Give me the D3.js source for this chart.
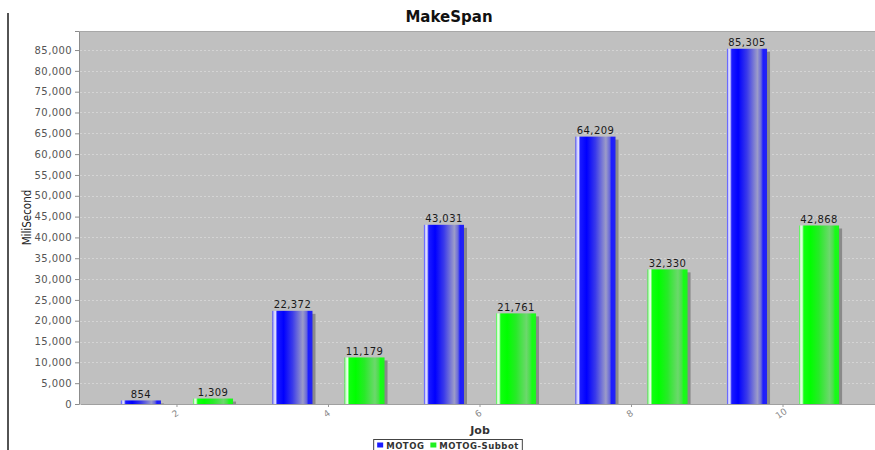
<!DOCTYPE html>
<html>
<head>
<meta charset="utf-8">
<script src="https://cdn.jsdelivr.net/npm/d3@7/dist/d3.min.js"></script>
<style>
  html, body { margin: 0; padding: 0; background: #ffffff; }
  svg { display: block; font-family: "DejaVu Sans", sans-serif; }
</style>
</head>
<body>
<svg id="chart" width="875" height="450"></svg>
<script>
// Jobs on the x axis and makespan (ms) for each scheduler
const jobs = ["2", "4", "6", "8", "10"];
const seriesNames = ["MOTOG", "MOTOG-Subbot"];
const motog = [854, 22372, 43031, 64209, 85305];
const motogSubbot = [1309, 11179, 21761, 32330, 42868];
const yTicks = [0, 5000, 10000, 15000, 20000, 25000, 30000, 35000, 40000,
                45000, 50000, 55000, 60000, 65000, 70000, 75000, 80000, 85000];
const seriesValues = [motog, motogSubbot];

const svg = d3.select("#chart");
const plot = { left: 80, right: 880, top: 31, bottom: 404 };

// bar gradients: thin highlight on the left, saturated body fading to a soft tone, bright edge on the right
const defs = svg.append("defs");
const gradSpecs = [
  { id: "gBlue", stops: [[0, "#3434ff"], [0.035, "#c4c4ff"], [0.075, "#e4e4ff"], [0.12, "#1a1aff"],
                          [0.28, "#0000ff"], [0.5, "#3a3aea"], [0.76, "#9c9cc8"], [0.85, "#6a6ad8"],
                          [0.9, "#1c1cff"], [1, "#2424f0"]] },
  { id: "gGreen", stops: [[0, "#34f034"], [0.035, "#c8ffc8"], [0.075, "#e8ffe8"], [0.12, "#10ff10"],
                          [0.28, "#00ff00"], [0.5, "#28ea28"], [0.76, "#6cd86c"], [0.85, "#48e048"],
                          [0.9, "#14ff14"], [1, "#20f020"]] }
];
gradSpecs.forEach(g => {
  const lg = defs.append("linearGradient").attr("id", g.id)
    .attr("x1", "0%").attr("x2", "100%").attr("y1", "0%").attr("y2", "0%");
  g.stops.forEach(s => lg.append("stop").attr("offset", s[0]).attr("stop-color", s[1]));
});
const fills = ["url(#gBlue)", "url(#gGreen)"];
const legendColors = ["#1a1aff", "#20f020"];

// scales
const x = d3.scaleBand().domain(jobs).range([plot.left, plot.right])
  .paddingInner(0.26).paddingOuter(0.27);
const xs = d3.scaleBand().domain(seriesNames).range([0, x.bandwidth()])
  .paddingInner(0.444).paddingOuter(0);
const y = d3.scaleLinear().domain([0, d3.max(motog) * 1.05]).range([plot.bottom, plot.top]);

// frame line on the left edge
svg.append("line").attr("x1", 8).attr("x2", 8).attr("y1", 13).attr("y2", 450)
  .attr("stroke", "#1a1a1a").attr("stroke-width", 1.5);

// plot background
svg.append("rect").attr("x", plot.left).attr("y", plot.top)
  .attr("width", plot.right - plot.left).attr("height", plot.bottom - plot.top)
  .attr("fill", "#c0c0c0");
svg.append("line").attr("x1", plot.left).attr("x2", plot.right)
  .attr("y1", plot.top + 0.5).attr("y2", plot.top + 0.5).attr("stroke", "#a8a8a8");

// horizontal gridlines
svg.append("g").selectAll("line").data(yTicks.filter(d => d > 0)).join("line")
  .attr("x1", plot.left).attr("x2", plot.right)
  .attr("y1", d => Math.round(y(d)) + 0.5).attr("y2", d => Math.round(y(d)) + 0.5)
  .attr("stroke", "#d4d4d4").attr("stroke-width", 1).attr("stroke-dasharray", "2,2");

// bars with a drop shadow
const groups = svg.append("g").selectAll("g").data(jobs).join("g")
  .attr("transform", d => `translate(${x(d)},0)`);

seriesNames.forEach((name, si) => {
  const vals = seriesValues[si];
  groups.append("rect")
    .attr("x", xs(name) + 3)
    .attr("y", (d, i) => y(vals[i]) + 3)
    .attr("width", xs.bandwidth())
    .attr("height", (d, i) => Math.max(0, plot.bottom - y(vals[i]) - 3))
    .attr("fill", "#8a8a8a");
  groups.append("rect")
    .attr("x", xs(name))
    .attr("y", (d, i) => y(vals[i]))
    .attr("width", xs.bandwidth())
    .attr("height", (d, i) => plot.bottom - y(vals[i]))
    .attr("fill", fills[si]);
  groups.append("text")
    .attr("x", xs(name) + xs.bandwidth() / 2)
    .attr("y", (d, i) => y(vals[i]) - 2.5)
    .attr("text-anchor", "middle")
    .attr("font-size", 10).attr("letter-spacing", 0.4)
    .attr("fill", "#1a1a1a")
    .text((d, i) => d3.format(",")(vals[i]));
});

// y axis
const yAxis = svg.append("g").attr("transform", `translate(${plot.left - 1},0)`)
  .call(d3.axisLeft(y).tickValues(yTicks).tickFormat(d3.format(",")).tickSize(4).tickPadding(3));
yAxis.select(".domain").attr("stroke", "#8c8c8c");
yAxis.selectAll(".tick line").attr("stroke", "#8c8c8c");
yAxis.selectAll(".tick text").attr("font-size", 10).attr("letter-spacing", 0.4)
  .attr("fill", "#555").attr("font-family", "DejaVu Sans, sans-serif");

// x axis
const xAxis = svg.append("g").attr("transform", `translate(0,${plot.bottom})`)
  .call(d3.axisBottom(x).tickSize(3).tickSizeOuter(0));
xAxis.select(".domain").attr("stroke", "#a0a0a0");
xAxis.selectAll(".tick line").attr("stroke", "#9a9a9a");
xAxis.selectAll(".tick text")
  .attr("font-size", 9).attr("fill", "#888").attr("font-family", "DejaVu Sans, sans-serif")
  .attr("text-anchor", "middle").attr("dy", 0).attr("y", 0)
  .attr("transform", "translate(0,12) rotate(-35)");

// title and axis labels
svg.append("text").attr("x", 449).attr("y", 22).attr("text-anchor", "middle")
  .attr("font-size", 15).attr("font-weight", "bold").attr("fill", "#111").text("MakeSpan");
svg.append("text").attr("transform", `translate(31,${(plot.top + plot.bottom) / 2}) rotate(-90)`)
  .attr("text-anchor", "middle").attr("font-size", 11.5)
  .attr("font-family", "DejaVu Sans Condensed, sans-serif").attr("fill", "#222").text("MiliSecond");
svg.append("text").attr("x", (plot.left + plot.right) / 2).attr("y", 434).attr("text-anchor", "middle")
  .attr("font-size", 11).attr("font-weight", "bold").attr("fill", "#333").text("Job");

// legend: items laid out left to right from their measured text widths, centred under the title
const legend = svg.append("g");
const box = legend.append("rect").attr("y", 439.5).attr("height", 14)
  .attr("fill", "#fff").attr("stroke", "#444");
let cx = 0;
seriesNames.forEach((name, i) => {
  const g = legend.append("g").attr("transform", `translate(${cx},0)`);
  g.append("rect").attr("x", 0).attr("y", 442.5).attr("width", 6).attr("height", 5)
    .attr("fill", legendColors[i]);
  const t = g.append("text").attr("x", 9).attr("y", 448.5).attr("font-size", 8.5)
    .attr("font-weight", "bold").attr("letter-spacing", 0.5).attr("fill", "#333").text(name);
  cx += 9 + t.node().getComputedTextLength() + 6;
});
const legendWidth = cx;
const lx = 449 - legendWidth / 2 + 2;
legend.attr("transform", `translate(${lx},0)`);
box.attr("x", -3.5).attr("width", legendWidth + 1);
</script>
</body>
</html>
